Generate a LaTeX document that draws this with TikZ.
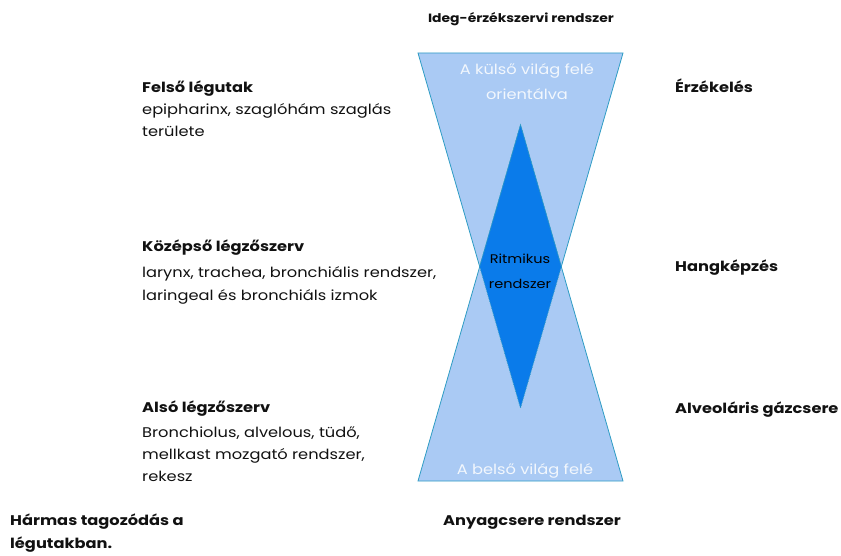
\documentclass[tikz,border=0pt]{standalone}
\usepackage{fontspec}
\setmainfont{Poppins}[FakeStretch=1.16]
\definecolor{lightblu}{HTML}{AACAF4}
\definecolor{darkblu}{HTML}{0A7BEA}
\definecolor{edgeblu}{HTML}{2E9CC4}
\definecolor{txt}{HTML}{111111}
\definecolor{paletxt}{HTML}{F2F7FD}
\begin{document}
\begin{tikzpicture}[x=1pt,y=-1pt,
  lbl/.style={inner sep=0pt,anchor=base west,text=txt,font=\fontsize{14}{16}\selectfont},
  hdr/.style={lbl,font=\fontsize{14}{16}\selectfont\bfseries},
  inner/.style={inner sep=0pt,anchor=base,text=paletxt,font=\fontsize{14}{16}\selectfont},
  tri/.style={fill=lightblu,draw=edgeblu,line width=0.8pt,line join=miter},
  dia/.style={fill=darkblu,draw=edgeblu,line width=0.8pt,densely dotted}]
\useasboundingbox (0,0) rectangle (841,556);
% shapes
\coordinate (tl) at (418,53);
\coordinate (tr) at (623,53);
\coordinate (ta) at (520.5,408);
\coordinate (bl) at (418,481);
\coordinate (br) at (623,481);
\coordinate (ba) at (520.5,125);
\coordinate (ml) at (479.7,266.7);
\coordinate (mr) at (561.3,266.7);
\draw[tri] (tl) -- (tr) -- (ta) -- cycle;
\draw[tri] (bl) -- (br) -- (ba) -- cycle;
\draw[dia] (ba) -- (mr) -- (ta) -- (ml) -- cycle;
% inner texts
\node[inner] (kulso1) at (527,75) {A külső világ felé};
\node[inner] (kulso2) at (527,100) {orientálva};
\node[inner] (belso) at (525,474) {A belső világ felé};
\node[inner,text=black,font=\fontsize{12.5}{14}\selectfont] (rit1) at (520,264) {Ritmikus};
\node[inner,text=black,font=\fontsize{12.5}{14}\selectfont] (rit2) at (520,288) {rendszer};
% top / bottom
\node[hdr,anchor=base,font=\fontsize{12}{14}\selectfont\bfseries] (ideg) at (521,23) {Ideg-érzékszervi rendszer};
\node[hdr] (anyag) at (443,525) {Anyagcsere rendszer};
% left blocks
\node[hdr] (felso) at (142,93) {Felső légutak};
\node[lbl] (felso1) at (142,115) {epipharinx, szaglóhám szaglás};
\node[lbl] (felso2) at (142,137) {területe};
\node[hdr] (kozep) at (142,252) {Középső légzőszerv};
\node[lbl] (kozep1) at (142,277) {larynx, trachea, bronchiális rendszer,};
\node[lbl] (kozep2) at (142,300) {laringeal és bronchiáls izmok};
\node[hdr] (also) at (142,412) {Alsó légzőszerv};
\node[lbl] (also1) at (142,437) {Bronchiolus, alvelous, tüdő,};
\node[lbl] (also2) at (142,459) {mellkast mozgató rendszer,};
\node[lbl] (also3) at (142,481) {rekesz};
\node[hdr] (harmas1) at (10,525) {Hármas tagozódás a};
\node[hdr] (harmas2) at (10,548) {légutakban.};
% right labels
\node[hdr] (erz) at (675,93) {Érzékelés};
\node[hdr] (hang) at (675,272) {Hangképzés};
\node[hdr] (alv) at (675,413) {Alveoláris gázcsere};
\end{tikzpicture}
\end{document}
